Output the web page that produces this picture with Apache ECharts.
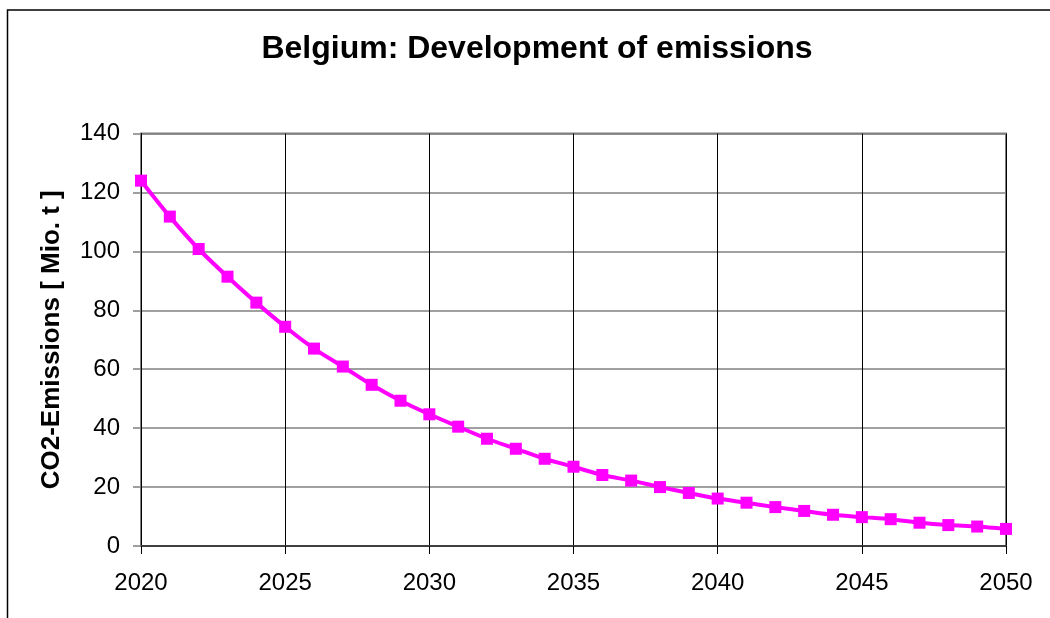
<!DOCTYPE html>
<html>
<head>
<meta charset="utf-8">
<script src="https://cdn.jsdelivr.net/npm/echarts@6/dist/echarts.min.js"></script>
<style>
  html, body { margin: 0; padding: 0; background: #fff; }
  #chart { width: 1050px; height: 618px; }
</style>
</head>
<body>
<div id="chart"></div>
<script>
// Annual CO2 emissions for Belgium, 2020-2050 (Mio. t)
const years = [2020, 2021, 2022, 2023, 2024, 2025, 2026, 2027, 2028, 2029, 2030,
               2031, 2032, 2033, 2034, 2035, 2036, 2037, 2038, 2039, 2040,
               2041, 2042, 2043, 2044, 2045, 2046, 2047, 2048, 2049, 2050];
const emissions = [124.0, 111.8, 100.8, 91.4, 82.6, 74.4, 67.0, 60.9, 54.7, 49.3, 44.7,
                   40.5, 36.4, 33.0, 29.6, 26.9, 24.1, 22.2, 20.0, 18.0, 16.1,
                   14.7, 13.2, 11.9, 10.6, 9.8, 9.1, 7.9, 7.1, 6.6, 5.8];
const yTicks = [0, 20, 40, 60, 80, 100, 120, 140];
const xTicks = [2020, 2025, 2030, 2035, 2040, 2045, 2050];

const titleText = 'Belgium: Development of emissions';
const yAxisName = 'CO2-Emissions [ Mio. t ]';

const font = 'Arial, "Liberation Sans", sans-serif';
const chart = echarts.init(document.getElementById('chart'), null, { renderer: 'canvas' });

chart.setOption({
  animation: false,
  backgroundColor: '#fff',
  title: {
    text: titleText,
    left: 532,
    textAlign: 'center',
    top: 28,
    textStyle: { fontFamily: font, fontSize: 32, fontWeight: 'bold', color: '#000' }
  },
  graphic: [{
    type: 'rect',
    shape: { x: 7.5, y: 10, width: 1200, height: 800 },
    style: { fill: 'none', stroke: '#000', lineWidth: 1.5 },
    silent: true
  }],
  grid: {
    left: 141,
    right: 44,
    top: 133.5,
    bottom: 72,
    show: true,
    borderColor: '#808080',
    borderWidth: 2,
    backgroundColor: 'transparent'
  },
  xAxis: {
    type: 'value',
    min: xTicks[0],
    max: xTicks[xTicks.length - 1],
    interval: 5,
    axisLine: { show: true, onZero: false, lineStyle: { color: '#404040', width: 2 } },
    axisTick: { show: true, inside: false, length: 8, lineStyle: { color: '#000', width: 1 } },
    axisLabel: {
      fontFamily: font, fontSize: 24, color: '#000', margin: 25,
      formatter: v => String(v)
    },
    splitLine: { show: true, lineStyle: { color: '#000', width: 1 } }
  },
  yAxis: {
    type: 'value',
    min: yTicks[0],
    max: yTicks[yTicks.length - 1],
    interval: 20,
    name: yAxisName,
    nameLocation: 'middle',
    nameGap: 76,
    nameRotate: 90,
    nameTextStyle: { fontFamily: font, fontSize: 26, fontWeight: 'bold', color: '#000' },
    axisLine: { show: true, lineStyle: { color: '#000', width: 1 } },
    axisTick: { show: true, inside: false, length: 8, lineStyle: { color: '#808080', width: 1.5 } },
    axisLabel: { fontFamily: font, fontSize: 24, color: '#000', margin: 21 },
    splitLine: { show: true, lineStyle: { color: '#808080', width: 1.5 } }
  },
  series: [{
    type: 'line',
    data: years.map((y, i) => [y, emissions[i]]),
    smooth: 0.3,
    symbol: 'rect',
    symbolSize: 12,
    lineStyle: { color: '#FF00FF', width: 4 },
    itemStyle: { color: '#FF00FF' },
    clip: false,
    z: 5
  }]
});
</script>
</body>
</html>
